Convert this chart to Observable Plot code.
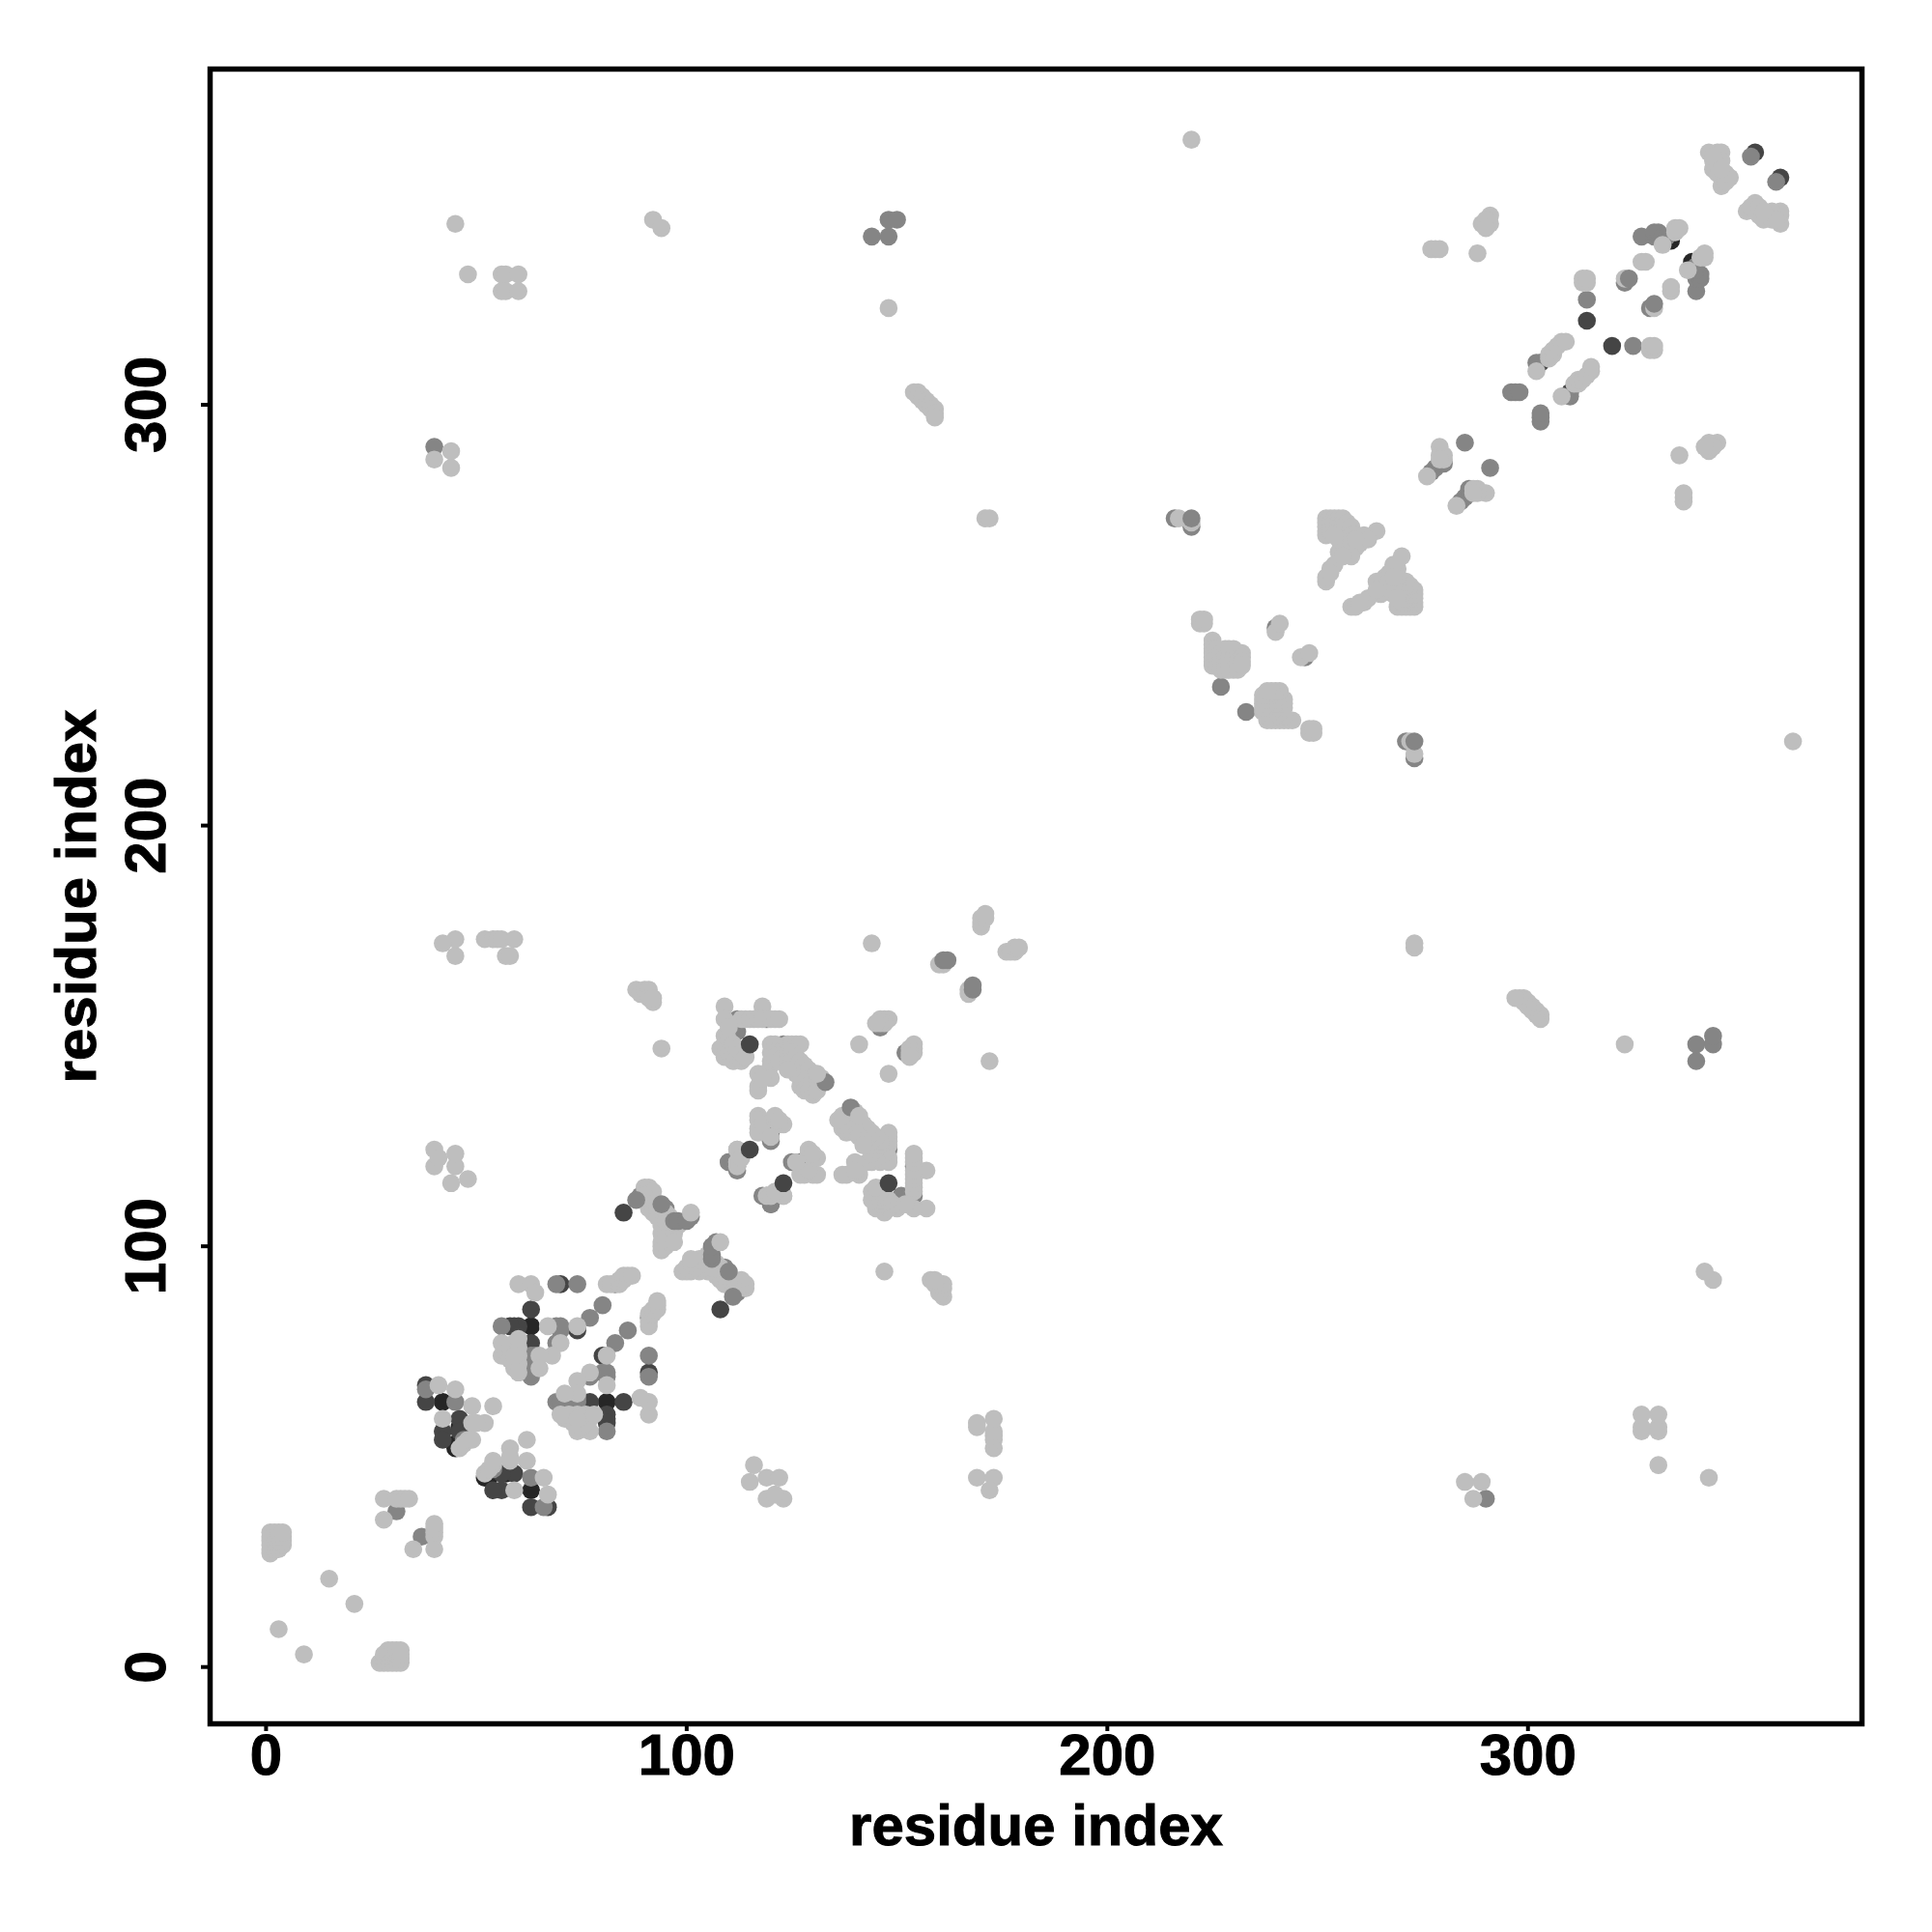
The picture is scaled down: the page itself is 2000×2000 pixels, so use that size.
<!DOCTYPE html>
<html><head><meta charset="utf-8">
<script src="https://cdn.jsdelivr.net/npm/d3@7"></script>
<script src="https://cdn.jsdelivr.net/npm/@observablehq/plot@0.6"></script>
<style>html,body{margin:0;padding:0;background:#fff}
svg [aria-label$="axis tick"]{stroke-width:4px}
svg [aria-label$="axis tick label"],svg [aria-label$="axis label"]{stroke:#000;stroke-width:1px}
svg [aria-label$="axis label"]{font-size:60px}
</style>
</head><body><div id="chart"></div>
<script>
const xTicks = [0,100,200,300];
const yTicks = [0,100,200,300];
const axisTitle = "residue index";
// residue pairs (i<j) by shade; the map is symmetric
const blackPairs = [[42,63],[45,53],[45,52],[46,57],[63,81],[120,127],[334,340],[334,339]];
const darkPairs = [[38,67],[38,63],[46,59],[42,56],[42,54],[46,56],
 [59,81],[60,81],[58,81],[63,85],[63,77],[70,91],[74,80],[85,108],[303,310],[314,320],[354,360]];
const midPairs = [[31,37],[38,66],[45,63],[47,54],[56,81],[69,81],[70,80],[70,81],[69,91],[74,91],[83,91],[80,86],[77,83],
 [69,77],[64,74],[63,74],[63,69],[63,70],[64,72],[40,290],[112,151],[112,153],[112,154],[119,154],[123,148],
 [120,125],[110,120],[112,119],[112,118],[110,120],[130,141],
 [89,112],[95,109],[101,107],
 [144,340],[148,340],[148,344],[150,344],[216,273],[220,271],[227,233],[240,247],[146,152],
 [277,284],[278,285],[280,286],[285,291],[296,303],[297,303],[298,303],[302,310],[314,325],[323,329],
 [327,340],[330,340],[330,341],[331,341],[332,339],[332,340],[333,340],[353,359]];
const lightPairs = [[3,9],[15,21],[1,27],[1,28],[2,28],[3,28],[1,29],[2,29],[3,29],[4,29],[1,30],[2,30],[3,30],[4,30],
 [1,31],[2,31],[3,31],[4,31],[1,32],[2,32],[3,32],[4,32],
 [28,40],[31,40],[32,40],[33,40],[34,40],[28,35],
 [41,67],[45,66],[49,62],[54,62],[42,59],[49,58],[52,58],[46,52],[47,53],[48,54],[49,54],[50,58],
 [60,91],[63,91],[64,89],[67,81],[74,81],[70,77],[68,74],[65,74],[65,71],[59,71],[59,73],[59,75],[59,77],[56,77],[56,74],
 [57,75],[58,76],[58,73],[60,74],[60,72],[81,91],[82,91],[84,91],[84,92],[85,92],[85,93],[86,93],[87,93],
 [60,76],[60,70],[60,78],[59,74],
 [88,161],[89,160],[90,161],[91,161],[91,159],[92,158],[92,159],[94,147],
 [109,157],[118,157],[109,154],[113,154],[114,154],[115,154],[116,154],[117,154],[118,154],[120,154],[121,154],[122,154],
 [108,147],[109,150],[109,148],[109,145],[110,152],[110,149],[110,146],[111,144],[111,146],[111,148],[112,145],[112,147],[113,144],[113,146],[114,145],
 [120,148],[120,146],[120,144],[120,143],[121,148],[122,147],[123,147],[124,147],[123,146],[124,148],[125,148],[126,148],[127,148],[121,145],[122,144],
 [123,145],[124,146],[124,144],[125,146],[125,144],[126,145],[126,143],[127,144],[127,142],[128,143],[128,141],[129,142],[129,140],
 [130,140],[130,138],[131,140],[131,138],[132,140],[127,140],[127,138],[128,139],[128,137],[129,137],[130,136],[131,137],[126,141],[125,142],[124,142],
 [117,141],[117,138],[117,137],[120,140],[118,140],
 [117,131],[117,130],[117,128],[117,127],[118,129],[121,130],[122,129],[123,129],[121,131],[122,130],[120,126],[112,123],[113,122],[112,120],
 [119,112],[120,112],[123,112],[121,113],
 [90,114],[91,114],[92,113],[90,112],[91,111],[91,109],[92,110],[92,108],[93,107],[93,109],[94,105],[94,103],[94,101],[94,100],[94,99],[95,100],
 [95,104],[96,103],[95,102],[96,101],[96,105],[97,103],[97,101],[96,107],[95,108],[98,105],[95,106],
 [40,119],[40,123],[41,121],[45,119],[45,122],[44,115],[48,116],[45,169],[45,173],[42,172],[52,173],[54,173],[55,173],[56,173],[59,173],[57,169],[58,169],
 [45,343],[48,331],[56,331],[57,331],[60,331],[56,327],[57,327],[60,327],[40,287],[44,289],[44,285],[92,344],[94,342],[148,323],
 [154,303],[155,303],[155,302],[156,302],[156,301],[157,301],[157,300],[158,300],[158,299],[159,299],[159,298],[159,297],[171,273],[172,273],[220,363],[217,273],[220,272],
 [222,248],[223,248],[222,249],[223,249],[225,244],[225,243],[225,242],[225,241],[225,240],[225,239],[225,238],[226,242],[226,240],[226,238],
 [227,241],[227,239],[227,237],[228,242],[228,240],[228,238],[228,237],[229,242],[229,240],[229,238],[229,237],[230,242],[230,240],[230,238],[230,237],
 [231,241],[231,239],[231,238],[231,237],[232,241],[232,240],[232,239],[232,238],
 [240,246],[241,248],[252,273],[252,272],[252,271],[252,270],[252,269],[253,273],[253,272],[253,271],[253,270],[254,273],[254,272],[254,271],[254,270],
 [255,273],[255,272],[255,271],[255,270],[256,273],[256,272],[256,271],[256,270],[257,272],[257,271],[258,270],[258,271],[258,269],[259,269],[260,268],[260,267],
 [259,266],[258,265],[258,264],[257,266],[256,265],[255,265],[256,267],[257,268],[255,268],[254,269],[258,267],[261,269],[264,270],[262,268],
 [253,261],[254,262],[252,258],[252,259],[253,260],[256,264],[259,268],
 [276,283],[279,290],[279,288],[280,288],[280,287],[279,287],[289,343],[291,345],[291,343],[290,344],[290,342],[288,336],[277,337],[278,337],[279,337],
 [302,308],[305,311],[305,312],[306,312],[306,313],[307,314],[308,315],[309,315],[313,329],[313,330],[314,329],[314,330],[323,330],
 [327,334],[328,334],[332,338],[335,341],[335,342],[336,342],
 [343,360],[345,360],[346,360],[346,358],[344,356],[345,355],[346,354],[348,354],[346,352],[347,353],[345,357],[344,358],[344,359],[347,355],[346,356],
 [141,148],[144,172],[146,154],[147,154],[148,154],[147,153],[146,153],[145,153],[160,167],[161,167],[170,176],[170,177],[170,178],[171,178],[171,179]];
const midTopPairs = [[220,273],[161,168],[162,168],[324,330],[94,110],[97,106],[98,106],[100,106],[88,111],[133,139]];
const darkTopPairs = [[115,148],[115,123]];
const lightTopPairs = [[101,108],[131,141]];
const shadeBlack = "#262626", shadeDark = "#454545", shadeMid = "#858585", shadeLight = "#bebebe";

const both = p => p.flatMap(([i,j]) => [[i,j],[j,i]]);
const layer = (pairs, fill) => Plot.dot(both(pairs), {x: d => d[0], y: d => d[1], r: 9.3, fill});

const plot = Plot.plot({
  width: 2000, height: 2000,
  marginLeft: 217, marginRight: 73, marginTop: 71, marginBottom: 216,
  style: {fontFamily: "'Liberation Sans', Arial, sans-serif", fontWeight: "bold", background: "#fff", color: "#000"},
  x: {domain: [-13.3, 379.4]},
  y: {domain: [-13.5, 379.8]},
  marks: [
    layer(blackPairs, shadeBlack),
    layer(darkPairs, shadeDark),
    layer(midPairs, shadeMid),
    layer(lightPairs, shadeLight),
    layer(midTopPairs, shadeMid),
    layer(darkTopPairs, shadeDark),
    layer(lightTopPairs, shadeLight),
    Plot.axisX({ticks: xTicks, tickSize: 8, tickPadding: 2, fontSize: 60, tickFormat: d => String(d),
      label: axisTitle, labelAnchor: "center", labelArrow: "none", labelOffset: 125}),
    Plot.axisY({ticks: yTicks, tickSize: 9, tickPadding: 38, fontSize: 60, tickRotate: -90, tickFormat: d => String(d),
      label: axisTitle, labelAnchor: "center", labelArrow: "none", labelOffset: 161}),
    Plot.frame({stroke: "#000", strokeWidth: 5.5})
  ]
});
document.getElementById("chart").appendChild(plot);
</script>
</body></html>
